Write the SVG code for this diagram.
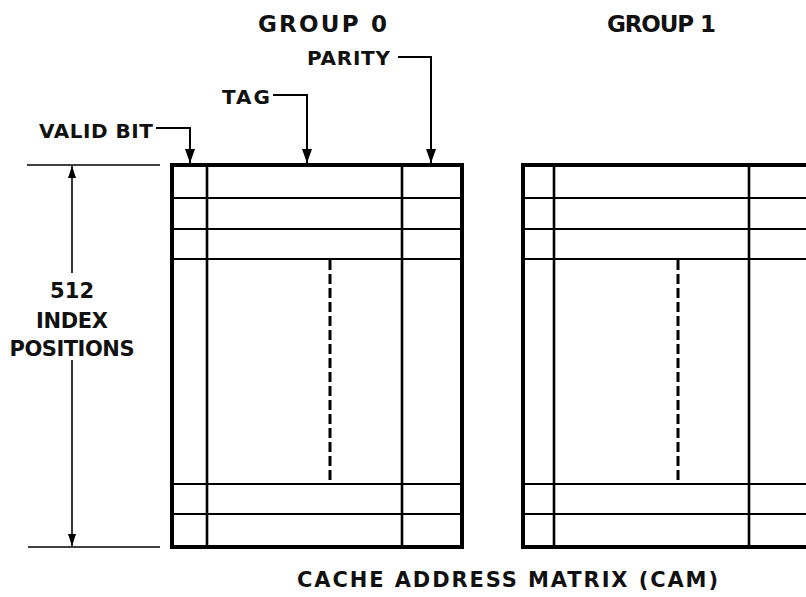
<svg xmlns="http://www.w3.org/2000/svg" width="806" height="597" viewBox="0 0 806 597">
<defs>
<marker id="ah" viewBox="0 0 14 10" refX="14" refY="5" markerWidth="14" markerHeight="10" markerUnits="userSpaceOnUse" orient="auto">
<path d="M0,0 L14,5 L0,10 Z" fill="#000"/>
</marker>
<marker id="dh" viewBox="0 0 12 8" refX="12" refY="4" markerWidth="12" markerHeight="8" markerUnits="userSpaceOnUse" orient="auto">
<path d="M0,0 L12,4 L0,8 Z" fill="#000"/>
</marker>
</defs>
<style>
text{font-family:"DejaVu Sans","Liberation Sans",Arial,sans-serif;font-weight:bold;fill:#111}
.outer{fill:none;stroke:#000;stroke-width:4}
.v{stroke:#000;stroke-width:2.6}
.h{stroke:#000;stroke-width:2}
.dash{stroke:#000;stroke-width:3;stroke-dasharray:10,4}
.lead{fill:none;stroke:#000;stroke-width:2}
.dim{fill:none;stroke:#000;stroke-width:1.6}
</style>
<rect width="806" height="597" fill="#fff"/>

<g id="group0">
<text x="258" y="32" font-size="23" textLength="129" lengthAdjust="spacing">GROUP 0</text>
<rect class="outer" x="172" y="165" width="290" height="382"/>
<line class="v" x1="207" y1="165" x2="207" y2="547"/>
<line class="v" x1="402" y1="165" x2="402" y2="547"/>
<line class="h" x1="172" y1="198" x2="462" y2="198"/>
<line class="h" x1="172" y1="229" x2="462" y2="229"/>
<line class="h" x1="172" y1="259" x2="462" y2="259"/>
<line class="h" x1="172" y1="484" x2="462" y2="484"/>
<line class="h" x1="172" y1="514" x2="462" y2="514"/>
<line class="dash" x1="330" y1="260" x2="330" y2="484"/>
</g>

<g id="group1">
<text x="607" y="32" font-size="23" textLength="109" lengthAdjust="spacing">GROUP 1</text>
<path class="outer" d="M830,165 H523 V547 H830"/>
<line class="v" x1="554" y1="165" x2="554" y2="547"/>
<line class="v" x1="749" y1="165" x2="749" y2="547"/>
<line class="h" x1="523" y1="198" x2="830" y2="198"/>
<line class="h" x1="523" y1="229" x2="830" y2="229"/>
<line class="h" x1="523" y1="259" x2="830" y2="259"/>
<line class="h" x1="523" y1="484" x2="830" y2="484"/>
<line class="h" x1="523" y1="514" x2="830" y2="514"/>
<line class="dash" x1="678" y1="260" x2="678" y2="484"/>
</g>

<g id="labels">
<text x="307" y="65" font-size="20" textLength="83" lengthAdjust="spacing">PARITY</text>
<text x="222" y="104" font-size="20" textLength="48" lengthAdjust="spacing">TAG</text>
<text x="39" y="138" font-size="20" textLength="114" lengthAdjust="spacing">VALID BIT</text>
<text x="72" y="298" font-size="21" text-anchor="middle" textLength="44" lengthAdjust="spacing">512</text>
<text x="72" y="328" font-size="21" text-anchor="middle" textLength="72" lengthAdjust="spacing">INDEX</text>
<text x="72" y="356" font-size="21" text-anchor="middle" textLength="125" lengthAdjust="spacing">POSITIONS</text>
<text x="297" y="587" font-size="21" textLength="421" lengthAdjust="spacing">CACHE ADDRESS MATRIX (CAM)</text>
</g>

<g id="connectors">
<path class="lead" d="M398,57 H431 V163" marker-end="url(#ah)"/>
<path class="lead" d="M273,95 H307 V163" marker-end="url(#ah)"/>
<path class="lead" d="M156,128 H190 V163" marker-end="url(#ah)"/>
<line class="dim" x1="27" y1="165" x2="160" y2="165"/>
<line class="dim" x1="28" y1="547" x2="160" y2="547"/>
<line class="dim" x1="72" y1="273" x2="72" y2="166" marker-end="url(#dh)"/>
<line class="dim" x1="72" y1="360" x2="72" y2="546" marker-end="url(#dh)"/>
</g>
</svg>
